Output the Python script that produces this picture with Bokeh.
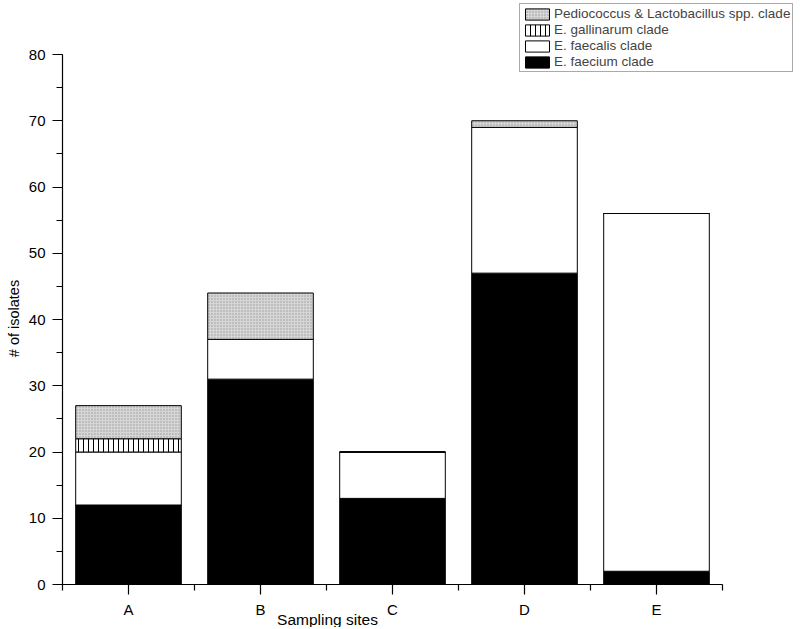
import math
from bokeh.plotting import figure
from bokeh.models import (ColumnDataSource, Range1d, FixedTicker, SingleIntervalTicker,
                          Legend, LegendItem)
from bokeh.core.properties import value
from bokeh.embed import file_html
from bokeh.resources import INLINE

sites = ["A", "B", "C", "D", "E"]
faecium = [12, 31, 13, 47, 2]
faecalis = [8, 6, 7, 22, 54]
gallinarum = [2, 0, 0, 0, 0]
pedio = [5, 7, 0, 1, 0]

series = ["faecium", "faecalis", "gallinarum", "pedio"]
labels = ["E. faecium clade", "E. faecalis clade", "E. gallinarum clade",
          "Pediococcus & Lactobacillus spp. clade"]
y_max = 80
x_title = "Sampling sites"
y_title = "# of isolates"

src = ColumnDataSource(dict(x=list(range(len(sites))), faecium=faecium, faecalis=faecalis,
                            gallinarum=gallinarum, pedio=pedio))

FONT = "Liberation Sans"

# layout (pixels)
W, H = 798, 627
AX_LEFT, AX_BOTTOM = 62, 584          # axis origin on the page
PX_PER_CAT = 132.0
PX_PER_UNIT = 6.625

x0 = -0.5 - AX_LEFT / PX_PER_CAT
x1 = -0.5 + (W - AX_LEFT) / PX_PER_CAT
y0 = -(H - AX_BOTTOM) / PX_PER_UNIT
y1 = AX_BOTTOM / PX_PER_UNIT

p = figure(width=W, height=H, output_backend="svg", toolbar_location=None,
           x_range=Range1d(x0, x1), y_range=Range1d(y0, y1),
           min_border=0, min_border_left=0, min_border_right=0,
           min_border_top=0, min_border_bottom=0)
p.outline_line_color = None
p.xgrid.visible = False
p.ygrid.visible = False

renderers = p.vbar_stack(series, x="x", width=0.8, source=src,
                         fill_color=["black", "white", "white", "#d6d6d6"],
                         line_color="black", line_width=1,
                         hatch_pattern=[" ", " ", "|", "."],
                         hatch_color=["black", "black", "black", "#9a9a9a"],
                         hatch_scale=[4, 4, 5, 3], hatch_weight=[1, 1, 1, 1])

# axes placed at fixed data locations inside the frame
xa = p.xaxis[0]
xa.fixed_location = 0
xa.bounds = (-0.5, len(sites) - 0.5)
xa.ticker = FixedTicker(ticks=[float(i) for i in range(len(sites))],
                        minor_ticks=[i - 0.5 for i in range(len(sites) + 1)])
xa.major_label_overrides = {i: s for i, s in enumerate(sites)}
ya = p.yaxis[0]
ya.fixed_location = -0.5
ya.bounds = (0, y_max)
ya.ticker = SingleIntervalTicker(interval=10, num_minor_ticks=2)
for ax in (xa, ya):
    ax.axis_line_color = "black"
    ax.axis_line_width = 1.2
    ax.major_tick_line_color = "black"
    ax.minor_tick_line_color = "black"
    ax.major_tick_line_width = 1.2
    ax.minor_tick_line_width = 1.2
    ax.major_tick_out = 10
    ax.major_tick_in = 0
    ax.minor_tick_out = 6
    ax.minor_tick_in = 0
    ax.major_label_text_font = FONT
    ax.major_label_text_font_size = "15px"
    ax.major_label_text_color = "black"
xa.major_label_standoff = 6
ya.major_label_standoff = 7

# axis titles
p.text(x=[-0.5 + (327 - AX_LEFT) / PX_PER_CAT], y=[-(619 - AX_BOTTOM) / PX_PER_UNIT],
       text=[x_title], text_align="center", text_baseline="middle",
       text_font=value(FONT), text_font_size="15.5px", text_color="black")
p.text(x=[-0.5 - (AX_LEFT - 13) / PX_PER_CAT], y=[(AX_BOTTOM - 318) / PX_PER_UNIT],
       text=[y_title], angle=math.pi / 2, text_align="center", text_baseline="middle",
       text_font=value(FONT), text_font_size="14.5px", text_color="black")

items = [LegendItem(label=labels[i], renderers=[renderers[i]]) for i in range(3, -1, -1)]
legend = Legend(items=items, location=(519, H - 72), orientation="vertical",
                label_text_font=FONT, label_text_font_size="13.5px",
                glyph_width=30, glyph_height=14, label_height=14, label_standoff=2,
                spacing=1, padding=2, margin=0,
                border_line_color="#555555", border_line_width=1,
                background_fill_color="white", background_fill_alpha=1.0)
p.add_layout(legend)

open("out.html", "w").write(file_html(p, INLINE))
